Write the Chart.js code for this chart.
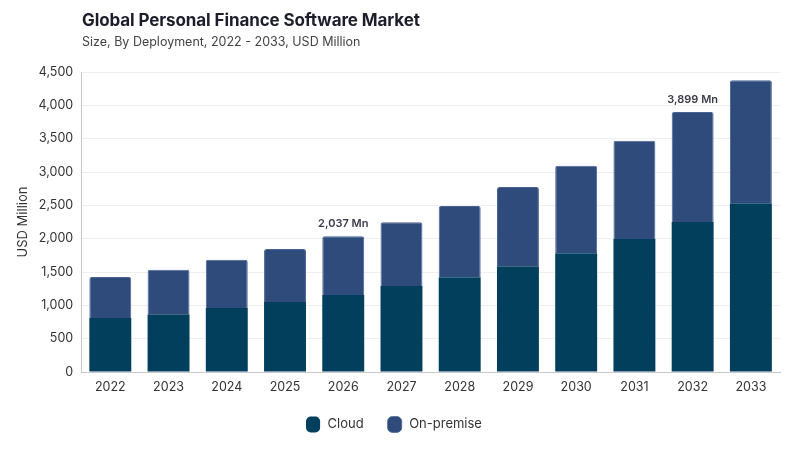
<!DOCTYPE html>
<html>
<head>
<meta charset="utf-8">
<script src="https://cdn.jsdelivr.net/npm/chart.js@4.4.1/dist/chart.umd.min.js"></script>
<style>
  html, body { margin: 0; padding: 0; background: #ffffff; }
  #wrap { position: relative; width: 800px; height: 450px; font-family: Inter, "Noto Sans", sans-serif; }
  #title { position: absolute; left: 82px; top: 10px; font-size: 17px; font-weight: 700; color: #1d1d2b; letter-spacing: -0.1px; }
  #subtitle { position: absolute; left: 82px; top: 34px; font-size: 12.5px; color: #444; }
  canvas { position: absolute; left: 0; top: 0; }
</style>
</head>
<body>
<div id="wrap">
  <canvas id="c" width="800" height="450"></canvas>
  <div id="title">Global Personal Finance Software Market</div>
  <div id="subtitle">Size, By Deployment, 2022 - 2033, USD Million</div>
</div>
<script>
const years = ["2022","2023","2024","2025","2026","2027","2028","2029","2030","2031","2032","2033"];
const cloud = [810, 865, 960, 1050, 1155, 1290, 1420, 1585, 1780, 1995, 2250, 2530];
const onPremise = [615, 670, 725, 795, 882, 955, 1070, 1190, 1315, 1475, 1649, 1845];
const annotatedYears = ["2026", "2032"];
const annotationLabels = ["2,037 Mn", "3,899 Mn"];

const totalLabels = {
  id: 'totalLabels',
  afterDatasetsDraw(chart) {
    const ctx = chart.ctx;
    const meta = chart.getDatasetMeta(1);
    ctx.save();
    ctx.font = '600 11px Inter, "Noto Sans", sans-serif';
    ctx.fillStyle = '#3a3a4a';
    ctx.textAlign = 'center';
    ctx.textBaseline = 'bottom';
    annotatedYears.forEach((yr, i) => {
      const idx = years.indexOf(yr);
      const el = meta.data[idx];
      ctx.fillText(annotationLabels[i], el.x, el.y - 7);
    });
    ctx.restore();
  }
};

new Chart(document.getElementById('c'), {
  type: 'bar',
  data: {
    labels: years,
    datasets: [
      { label: 'Cloud', data: cloud, backgroundColor: '#013f5c', borderColor: '#013f5c', borderWidth: 0 },
      { label: 'On-premise', data: onPremise, backgroundColor: '#2e4b7b', borderColor: '#4a6391', borderWidth: {top: 1, left: 1, right: 1, bottom: 0}, borderRadius: {topLeft: 2, topRight: 2}, borderSkipped: 'bottom' }
    ]
  },
  options: {
    responsive: false,
    animation: false,
    devicePixelRatio: 1,
    layout: { padding: { top: 72, left: 7, right: 20, bottom: 9 } },
    datasets: { bar: { barPercentage: 0.72, categoryPercentage: 1.0 } },
    plugins: {
      legend: {
        position: 'bottom',
        labels: {
          usePointStyle: true, pointStyle: 'rectRounded', pointStyleWidth: 16, boxHeight: 14,
          color: '#333', font: { size: 13, family: 'Inter, "Noto Sans", sans-serif' }, padding: 23
        }
      },
      tooltip: { enabled: false }
    },
    scales: {
      x: {
        stacked: true,
        grid: { display: false },
        border: { color: '#c8c8c8' },
        ticks: { color: '#333', font: { size: 12.5, family: 'Inter, "Noto Sans", sans-serif' }, padding: 0 }
      },
      y: {
        stacked: true,
        min: 0, max: 4500,
        ticks: { stepSize: 500, color: '#333', font: { size: 12.5, family: 'Inter, "Noto Sans", sans-serif' }, padding: 8,
          callback: v => v.toLocaleString('en-US') },
        grid: { color: '#efefef', drawTicks: false },
        border: { color: '#c8c8c8' },
        title: { display: true, text: 'USD Million', color: '#333', font: { size: 13, family: 'Inter, "Noto Sans", sans-serif' }, padding: { top: 8, bottom: 0 } }
      }
    }
  },
  plugins: [totalLabels]
});
</script>
</body>
</html>
